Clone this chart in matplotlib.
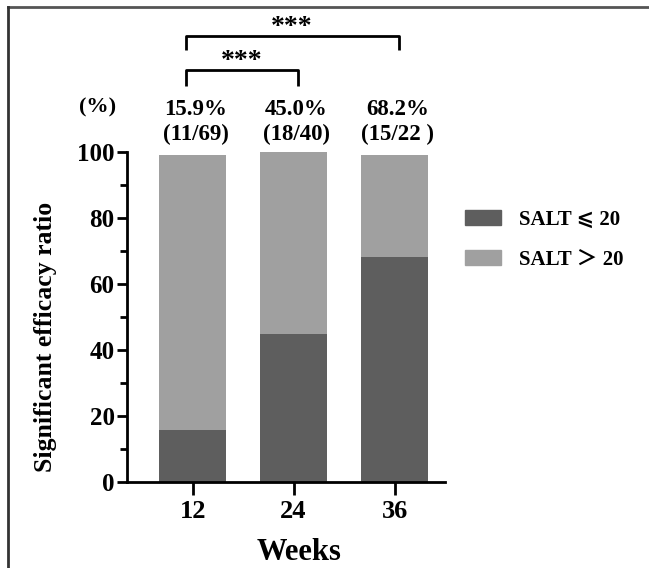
import numpy as np
import matplotlib.pyplot as plt
from matplotlib.lines import Line2D
from matplotlib.patches import Patch

plt.rcParams['font.family'] = ['Liberation Serif', 'DejaVu Serif', 'DejaVu Sans', 'Noto Sans CJK SC']
plt.rcParams['font.weight'] = 'bold'

weeks = ['12', '24', '36']
salt_le20 = [15.9, 45.0, 68.2]
bar_top = [99.0, 100.0, 99.0]
salt_gt20 = [t - v for t, v in zip(bar_top, salt_le20)]
pct_labels = ['15.9%\n(11/69)', '45.0%\n(18/40)', '68.2%\n(15/22 )']
dark = '#5e5e5e'
light = '#a0a0a0'

fig = plt.figure(figsize=(6.49, 5.68), dpi=100)
ax = fig.add_axes([0.1957, 0.1514, 0.49, 0.581])
x = np.arange(len(weeks))
ax.bar(x, salt_le20, width=0.66, color=dark)
ax.bar(x, salt_gt20, width=0.66, bottom=salt_le20, color=light)

ax.set_xlim(-0.65, 2.5)
ax.set_ylim(0, 100)
ax.set_xticks(x)
ax.set_xticklabels(weeks, fontsize=19, fontweight='bold')
ax.set_yticks([0, 20, 40, 60, 80, 100])
ax.set_yticklabels(['0', '20', '40', '60', '80', '100'], fontsize=18, fontweight='bold')
ax.set_yticks([10, 30, 50, 70, 90], minor=True)
ax.tick_params(which='major', length=7, width=2, direction='out', pad=2)
ax.tick_params(which='minor', length=5, width=2, direction='out')
ax.tick_params(axis='x', length=9, pad=4)
for s in ['top', 'right']:
    ax.spines[s].set_visible(False)
for s in ['left', 'bottom']:
    ax.spines[s].set_linewidth(2)
ax.set_ylabel('Significant efficacy ratio', fontsize=18.5, fontweight='bold')
ax.yaxis.set_label_coords(-0.22, 0.44)
ax.set_xlabel('Weeks', fontsize=22, fontweight='bold')
ax.xaxis.set_label_coords(0.54, -0.17)

# percentage labels above bars
for xi, lab in zip(x, pct_labels):
    ax.text(xi + 0.03, 102.2, lab, ha='center', va='bottom', fontsize=16.5,
            fontweight='bold', linespacing=1.25, clip_on=False)
ax.text(-0.94, 113.5, '(%)', ha='center', va='center', fontsize=16,
        fontweight='bold', clip_on=False)

# significance brackets
def bracket(x0, x1, y, h, txt):
    ax.plot([x0, x0, x1, x1], [y - h, y, y, y - h], color='black', lw=2,
            clip_on=False, solid_capstyle='butt')
    ax.text((x0 + x1) / 2, y - 1.2, txt, ha='center', va='bottom',
            fontsize=20, fontweight='bold', clip_on=False)

bracket(-0.07, 1.04, 124.8, 4.8, '***')
bracket(-0.07, 2.04, 135.2, 4.3, '***')

handles = [Patch(color=dark), Patch(color=light)]
fig.legend(handles, ['SALT \u2a7d 20', 'SALT \uff1e 20'], loc='center left',
           bbox_to_anchor=(0.688, 0.578), frameon=False,
           handlelength=1.7, handleheight=0.7, labelspacing=0.95,
           handletextpad=0.9, prop={'weight': 'bold', 'size': 15})

# partial frame around figure
fig.add_artist(Line2D([8 / 649, 1], [1 - 6.5 / 568] * 2, color='#555555', lw=2))
fig.add_artist(Line2D([8 / 649] * 2, [0, 1 - 6.5 / 568], color='#333333', lw=2))

plt.savefig('out.png', dpi=100)
